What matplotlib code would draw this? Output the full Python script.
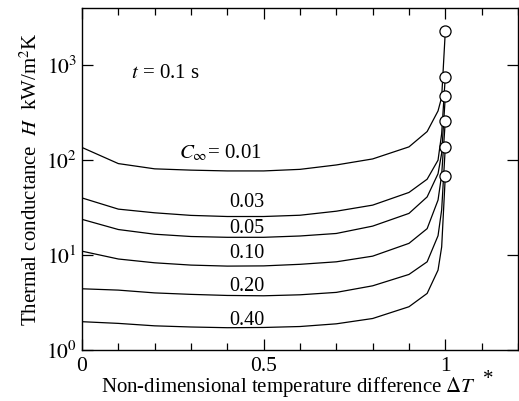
import matplotlib
matplotlib.use("Agg")
import matplotlib.pyplot as plt
from matplotlib.ticker import FixedLocator, MultipleLocator, NullLocator

plt.rcParams['font.family'] = ['Liberation Serif', 'DejaVu Serif']
plt.rcParams['mathtext.fontset'] = 'stix'

# non-dimensional temperature difference nodes
dT = [0.0, 0.1, 0.2, 0.3, 0.4, 0.5, 0.6, 0.7, 0.8, 0.9, 0.95, 0.98, 0.99, 1.0]

# thermal conductance H [kW/m2K] for each C_inf
H_001 = [136, 92, 81, 78.5, 77, 77, 80, 89, 103, 138, 200, 330, 460, 2270]
H_003 = [40, 30.5, 27.9, 26.2, 25.5, 25.5, 26.3, 29, 33.6, 45.7, 63, 100, 190, 760]
H_005 = [23.8, 18.6, 16.6, 15.7, 15.4, 15.4, 15.9, 16.9, 20.2, 27.5, 41, 72, 118, 470]
H_010 = [11.0, 9.1, 8.3, 7.85, 7.66, 7.7, 8.0, 8.5, 9.75, 13.3, 19, 38, 70, 260]
H_020 = [4.42, 4.28, 4.0, 3.86, 3.76, 3.73, 3.82, 4.05, 4.75, 6.26, 8.5, 16, 30, 137]
H_040 = [1.99, 1.91, 1.80, 1.75, 1.72, 1.73, 1.77, 1.89, 2.15, 2.86, 3.95, 6.95, 12.2, 68]

series = [H_001, H_003, H_005, H_010, H_020, H_040]
labels = ["0.01", "0.03", "0.05", "0.10", "0.20", "0.40"]
label_y = [118, 36, 19.2, 10.5, 4.7, 2.07]

fig = plt.figure(figsize=(5.19, 4.01), dpi=100)
ax = fig.add_axes([0.158, 0.127, 0.84, 0.853])

for H in series:
    ax.plot(dT, H, color='black', lw=0.9)
    ax.plot(dT[-1], H[-1], 'o', ms=8, mfc='white', mec='black', mew=0.9, zorder=5)

# curve labels
ax.text(0.267, label_y[0], r"$C_{\infty}$= " + labels[0], fontsize=15, va='center', ha='left')
for lab, y in zip(labels[1:], label_y[1:]):
    ax.text(0.453, y, lab, fontsize=14.5, va='center', ha='center')

ax.text(0.23, 824, r"$t$ = 0.1 s", fontsize=15, va='center', ha='center')

ax.set_yscale('log')
ax.set_xlim(0, 1.2)
ax.set_ylim(1, 4000)

ax.xaxis.set_major_locator(FixedLocator([0, 0.5, 1]))
ax.xaxis.set_minor_locator(MultipleLocator(0.1))
ax.set_xticklabels(["0", "0.5", "1"])
ax.yaxis.set_major_locator(FixedLocator([1, 10, 100, 1000]))
ax.yaxis.set_minor_locator(NullLocator())
ax.set_yticklabels([r"$10^0$", r"$10^1$", r"$10^2$", r"$10^3$"])

ax.tick_params(which='both', direction='in', top=True, right=True, labelsize=15.5, width=0.9)
ax.tick_params(which='major', length=8)
ax.tick_params(which='minor', length=5)
ax.tick_params(axis='x', pad=5)
for s in ax.spines.values():
    s.set_linewidth(1.0)

# x label, with the star as its own raised text
fig.text(0.556, 0.022, r"Non-dimensional temperature difference $\Delta T$",
         fontsize=15, ha='center', va='baseline')
fig.text(0.94, 0.042, "*", fontsize=15, ha='center', va='baseline')
ax.set_ylabel(r"Thermal conductance  $H$  kW/m$^2$K", fontsize=15, labelpad=3)

fig.savefig("out.png", dpi=100)
